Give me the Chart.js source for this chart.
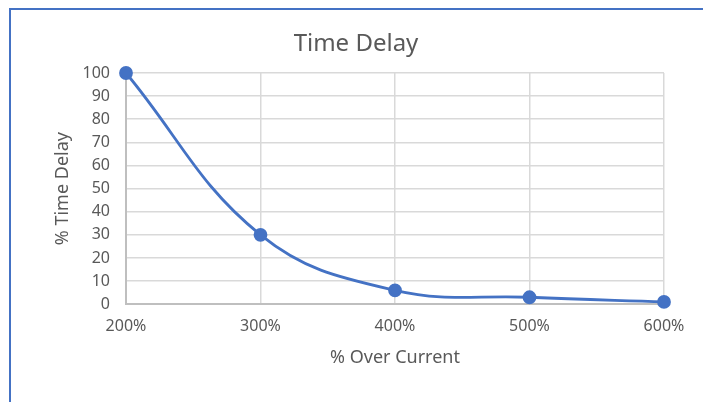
<!DOCTYPE html>
<html lang="en">
  <head>
    <meta charset="utf-8" />
    <title>Time Delay</title>
    <style>
      * {
        margin: 0;
        padding: 0;
      }
      body {
        width: 703px;
        height: 402px;
        background: #fff;
        overflow: hidden;
        position: relative;
      }
      .frame {
        position: absolute;
        left: 9px;
        top: 8px;
        width: 800px;
        height: 500px;
        border-left: 2px solid #4472c4;
        border-top: 2px solid #4472c4;
      }
      .chartBox {
        position: absolute;
        left: 0;
        top: 0;
        width: 703px;
        height: 402px;
      }
    </style>
  </head>
  <body>
    <div class="frame"></div>
    <div class="chartBox">
      <canvas id="myChart"></canvas>
    </div>

    <script src="https://cdn.jsdelivr.net/npm/chart.js@4/dist/chart.umd.min.js"></script>

    <script>
      // data block
      const overCurrent = ["200%", "300%", "400%", "500%", "600%"];
      const timeDelay = [100, 30, 6, 3, 1];
      const yTicks = [0, 10, 20, 30, 40, 50, 60, 70, 80, 90, 100];

      const blue = "#4472c4";
      const grey = "#595959";
      const font = "'Noto Sans', 'Open Sans', sans-serif";

      const data = {
        labels: overCurrent,
        datasets: [
          {
            data: timeDelay,
            borderColor: blue,
            backgroundColor: blue,
            borderWidth: 2.8,
            pointRadius: 5.5,
            pointHoverRadius: 5.5,
            tension: 0.4,
            clip: false,
          },
        ],
      };

      // config block
      const config = {
        type: "line",
        data: data,
        options: {
          responsive: true,
          maintainAspectRatio: false,
          animation: false,
          layout: {
            padding: { left: 48, right: 39, top: 14, bottom: 33 },
          },
          plugins: {
            legend: { display: false },
            tooltip: { enabled: false },
            title: {
              display: true,
              text: "Time Delay",
              color: grey,
              font: { family: font, size: 24, weight: "normal" },
              padding: { top: 15.6, bottom: 14.6 },
            },
          },
          scales: {
            x: {
              offset: false,
              grid: { color: "#d9d9d9", lineWidth: 1.5, drawTicks: false },
              border: { color: "#bfbfbf", width: 2 },
              ticks: {
                color: grey,
                font: { family: font, size: 16 },
                padding: 13,
                maxRotation: 0,
              },
              title: {
                display: true,
                text: "% Over Current",
                color: grey,
                font: { family: font, size: 18 },
                padding: { top: -2, bottom: 0 },
              },
            },
            y: {
              min: 0,
              max: 100,
              afterBuildTicks: (scale) => {
                scale.ticks = yTicks.map((v) => ({ value: v }));
              },
              afterFit: (scale) => {
                scale.width = 78;
              },
              grid: { color: "#d9d9d9", lineWidth: 1.5, drawTicks: false },
              border: { color: "#bfbfbf", width: 2 },
              ticks: {
                color: grey,
                font: { family: font, size: 16 },
                padding: 16,
              },
              title: {
                display: true,
                text: "% Time Delay",
                color: grey,
                font: { family: font, size: 18 },
                padding: { top: 4, bottom: 4 },
              },
            },
          },
        },
      };

      // init render block
      const ctx = document.getElementById("myChart");
      const myChart = new Chart(ctx, config);
    </script>
  </body>
</html>
